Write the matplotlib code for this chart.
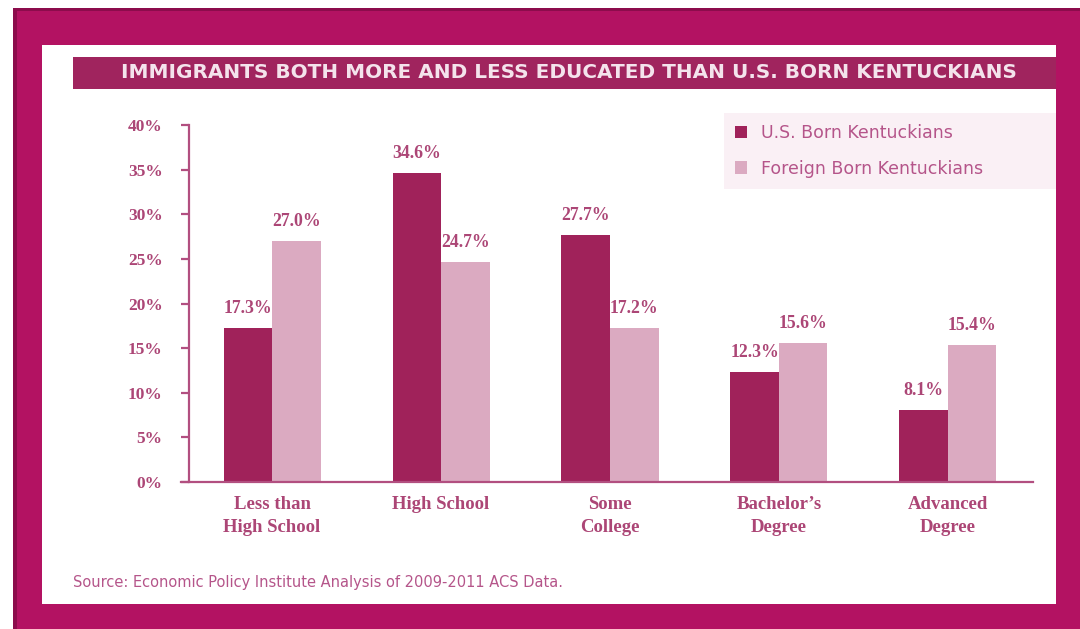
import matplotlib
matplotlib.use("Agg")
import matplotlib.pyplot as plt
from matplotlib.patches import Rectangle
import numpy as np

# ---- data -------------------------------------------------------------
categories = ["Less than\nHigh School", "High School", "Some\nCollege",
              "Bachelor\u2019s\nDegree", "Advanced\nDegree"]
us_born = [17.3, 34.6, 27.7, 12.3, 8.1]
foreign_born = [27.0, 24.7, 17.2, 15.6, 15.4]
series_names = ["U.S. Born Kentuckians", "Foreign Born Kentuckians"]
y_ticks = [0, 5, 10, 15, 20, 25, 30, 35, 40]
title = "IMMIGRANTS BOTH MORE AND LESS EDUCATED THAN U.S. BORN KENTUCKIANS"
source = "Source: Economic Policy Institute Analysis of 2009-2011 ACS Data."

# ---- style ------------------------------------------------------------
W, H = 1080, 629
FRAME = "#B31262"
FRAME_EDGE = "#8C0C4C"
TITLE_BAR = "#A0245E"
TITLE_TEXT = "#F4E3EC"
DARK = "#A0225A"
LIGHT = "#DBAAC1"
TEXT = "#AC4676"
SOFT_TEXT = "#B5558A"
AXIS = "#B24F80"
LEGEND_BG = "#FAF0F5"
SERIF = ["Liberation Serif", "DejaVu Serif"]
SANS = ["DejaVu Sans"]


def fx(x):
    return x / W


def fy(y):
    return 1 - y / H


def frect(x0, y0, x1, y1, color, z=0):
    """Rectangle given in figure pixels (origin top-left)."""
    return Rectangle((fx(x0), fy(y1)), fx(x1) - fx(x0), fy(y0) - fy(y1),
                     transform=fig.transFigure, facecolor=color,
                     edgecolor="none", zorder=z)


fig = plt.figure(figsize=(W / 100, H / 100), dpi=100, facecolor="white")

# outer frame and white panel
fig.patches.append(frect(13, 8, W, H, FRAME, 0))
fig.patches.append(frect(13, 8, W, 10.5, FRAME_EDGE, 1))
fig.patches.append(frect(13, 8, 17, H, FRAME_EDGE, 1))
fig.patches.append(frect(42, 45, 1056, 604, "white", 2))

# title banner
fig.patches.append(frect(73, 57, 1056, 89, TITLE_BAR, 3))
fig.text(fx(121), fy(73), title, ha="left", va="center", color=TITLE_TEXT,
         fontsize=14.4, fontweight="bold", family=SANS, zorder=4)

# ---- chart ------------------------------------------------------------
ax = fig.add_axes([fx(181), fy(482), fx(1033) - fx(181), fy(125) - fy(482)])
ax.set_facecolor("none")
ax.set_zorder(5)

x = np.arange(len(categories))
w = 0.287
b1 = ax.bar(x - w / 2, us_born, w, color=DARK, label=series_names[0])
b2 = ax.bar(x + w / 2, foreign_born, w, color=LIGHT, label=series_names[1])

for bars, vals in ((b1, us_born), (b2, foreign_born)):
    for rect, v in zip(bars, vals):
        ax.annotate(f"{v:.1f}%", (rect.get_x() + rect.get_width() / 2, v),
                    xytext=(0, 15), textcoords="offset pixels",
                    ha="center", va="baseline", color=TEXT,
                    fontsize=12.8, fontweight="bold", family=SERIF)

ax.set_xlim(-0.5385, 4.503)
ax.set_ylim(0, 40)
for s in ("top", "right"):
    ax.spines[s].set_visible(False)
ax.spines["left"].set_position(("data", -0.491))
for s in ("left", "bottom"):
    ax.spines[s].set_color(AXIS)
    ax.spines[s].set_linewidth(1.6)

ax.set_yticks(y_ticks)
ax.set_yticklabels([f"{v}%" for v in y_ticks], family=SERIF, fontsize=12.5,
                   fontweight="bold")
ax.tick_params(axis="y", direction="out", length=6, width=1.6, color=AXIS,
               labelcolor=TEXT, pad=13)
ax.set_xticks(x)
ax.set_xticklabels(categories, family=SERIF, fontsize=13.5, fontweight="bold",
                   linespacing=1.45)
ax.tick_params(axis="x", length=0, labelcolor=TEXT, pad=10)

# legend box
leg = ax.legend(handles=[b1, b2], labels=series_names,
                loc="upper left", mode="expand",
                bbox_to_anchor=(fx(724), fy(190), fx(1056) - fx(724),
                                fy(113) - fy(190)),
                bbox_transform=fig.transFigure,
                frameon=True, fancybox=False, borderaxespad=0,
                handlelength=0.7, handleheight=0.7, handletextpad=0.8,
                labelspacing=1.0, borderpad=0.65,
                prop={"family": SANS, "size": 12.5})
frame = leg.get_frame()
frame.set_facecolor(LEGEND_BG)
frame.set_edgecolor("none")
frame.set_alpha(1)
for t in leg.get_texts():
    t.set_color(SOFT_TEXT)

# source note
fig.text(fx(73), fy(582), source, ha="left", va="center", color=SOFT_TEXT,
         fontsize=10.5, family=SANS, zorder=4)

fig.savefig("out.png", dpi=100, facecolor="white")
